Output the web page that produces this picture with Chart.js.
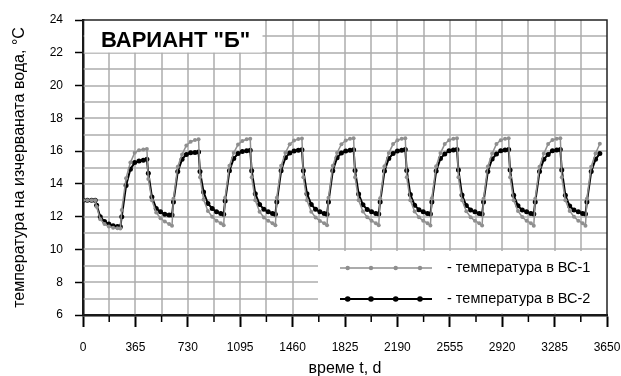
<!DOCTYPE html>
<html>
<head>
<meta charset="utf-8">
<script src="https://cdn.jsdelivr.net/npm/chart.js@4.4.1/dist/chart.umd.min.js"></script>
<style>
  html, body { margin: 0; padding: 0; background: #fff; }
  #wrap { width: 621px; height: 376px; }
</style>
</head>
<body>
<div id="wrap"><canvas id="myChart" width="621" height="376"></canvas></div>
<script>
// time, days
const days = [
  0, 30, 60, 85, 95, 120, 150, 180, 210, 240, 260, 270, 300, 330,
  360, 390, 420, 445, 455, 480, 510, 540, 570, 600, 620, 630, 660, 690,
  720, 750, 780, 805, 815, 840, 870, 900, 930, 960, 980, 990, 1020, 1050,
  1080, 1110, 1140, 1165, 1175, 1200, 1230, 1260, 1290, 1320, 1340, 1350, 1380, 1410,
  1440, 1470, 1500, 1525, 1535, 1560, 1590, 1620, 1650, 1680, 1700, 1710, 1740, 1770,
  1800, 1830, 1860, 1885, 1895, 1920, 1950, 1980, 2010, 2040, 2060, 2070, 2100, 2130,
  2160, 2190, 2220, 2245, 2255, 2280, 2310, 2340, 2370, 2400, 2420, 2430, 2460, 2490,
  2520, 2550, 2580, 2605, 2615, 2640, 2670, 2700, 2730, 2760, 2780, 2790, 2820, 2850,
  2880, 2910, 2940, 2965, 2975, 3000, 3030, 3060, 3090, 3120, 3140, 3150, 3180, 3210,
  3240, 3270, 3300, 3325, 3335, 3360, 3390, 3420, 3450, 3480, 3500, 3510, 3540, 3570,
  3600
]

// температура в ВС-1 (gray)
const tempBC1 = [
  13.0, 13.0, 13.0, 13.0, 12.6, 11.85, 11.55, 11.4, 11.32, 11.3, 11.28, 12.4, 14.35, 15.3,
  15.9, 16.05, 16.1, 16.13, 14.3, 13.0, 12.25, 11.9, 11.7, 11.55, 11.45, 13.1, 15.05, 15.8,
  16.35, 16.57, 16.68, 16.72, 14.4, 13.05, 12.35, 12.0, 11.75, 11.6, 11.48, 13.15, 15.1, 15.9,
  16.4, 16.62, 16.72, 16.76, 14.4, 13.0, 12.3, 11.95, 11.75, 11.6, 11.48, 13.15, 15.1, 15.9,
  16.42, 16.64, 16.74, 16.77, 14.4, 13.0, 12.3, 11.95, 11.74, 11.6, 11.47, 13.15, 15.1, 15.9,
  16.42, 16.65, 16.75, 16.78, 14.4, 13.0, 12.32, 11.96, 11.75, 11.6, 11.47, 13.12, 15.08, 15.88,
  16.43, 16.66, 16.76, 16.78, 14.4, 13.0, 12.32, 11.96, 11.75, 11.6, 11.46, 13.12, 15.08, 15.88,
  16.43, 16.67, 16.76, 16.78, 14.4, 13.0, 12.33, 11.97, 11.75, 11.6, 11.46, 13.1, 15.06, 15.86,
  16.43, 16.67, 16.76, 16.78, 14.4, 13.0, 12.34, 11.98, 11.75, 11.6, 11.45, 13.1, 15.05, 15.85,
  16.43, 16.68, 16.76, 16.78, 14.4, 13.0, 12.35, 12.0, 11.75, 11.6, 11.45, 13.1, 15.05, 15.85,
  16.45
]

// температура в ВС-2 (black)
const tempBC2 = [
  13.0, 13.0, 13.0, 13.0, 12.7, 12.0, 11.7, 11.55, 11.45, 11.4, 11.38, 12.0, 13.9, 14.9,
  15.3, 15.4, 15.45, 15.5, 14.65, 13.2, 12.5, 12.3, 12.15, 12.1, 12.1, 12.9, 14.75, 15.5,
  15.8, 15.9, 15.92, 15.95, 14.75, 13.5, 12.8, 12.5, 12.3, 12.2, 12.15, 12.95, 14.8, 15.55,
  15.85, 15.98, 16.02, 16.05, 14.8, 13.4, 12.75, 12.45, 12.3, 12.2, 12.15, 12.9, 14.8, 15.6,
  15.88, 16.0, 16.05, 16.08, 14.8, 13.4, 12.75, 12.45, 12.3, 12.2, 12.15, 12.9, 14.8, 15.6,
  15.88, 16.01, 16.06, 16.09, 14.82, 13.38, 12.72, 12.44, 12.3, 12.2, 12.16, 12.9, 14.78, 15.55,
  15.85, 16.01, 16.06, 16.1, 14.82, 13.35, 12.7, 12.42, 12.3, 12.2, 12.16, 12.9, 14.78, 15.55,
  15.83, 16.02, 16.07, 16.1, 14.85, 13.32, 12.68, 12.41, 12.3, 12.2, 12.16, 12.9, 14.76, 15.52,
  15.82, 16.02, 16.07, 16.1, 14.85, 13.3, 12.66, 12.4, 12.3, 12.2, 12.16, 12.9, 14.75, 15.5,
  15.8, 16.02, 16.07, 16.1, 14.85, 13.3, 12.65, 12.4, 12.3, 12.2, 12.16, 12.9, 14.75, 15.5,
  15.85
]

const xLabels = [0, 365, 730, 1095, 1460, 1825, 2190, 2555, 2920, 3285, 3650]
const yLabels = [6, 8, 10, 12, 14, 16, 18, 20, 22, 24]
const seriesNames = ['- температура в ВС-1', '- температура в ВС-2']
const chartTitle = 'ВАРИАНТ "Б"'

const grayColor = '#8f8f8f'
const gridColor = '#adadad'
const FONT = '"Liberation Sans", Arial, sans-serif'

const toPoints = (vals) => vals.map((v, i) => ({ x: days[i], y: v }))

// grid lines inside the plot
const gridPlugin = {
  id: 'gridlines',
  beforeDatasetsDraw(chart) {
    const ctx = chart.ctx
    const a = chart.chartArea
    const xs = chart.scales.x
    const ys = chart.scales.y
    ctx.save()
    ctx.strokeStyle = gridColor
    ctx.lineWidth = 1.5
    xs.ticks.forEach((t) => {
      const px = Math.round(xs.getPixelForValue(t.value))
      if (px < a.left + 2 || px > a.right - 2) return
      ctx.beginPath()
      ctx.moveTo(px, a.top)
      ctx.lineTo(px, a.bottom)
      ctx.stroke()
    })
    for (let v = 7; v < 24; v++) {
      const py = Math.round(ys.getPixelForValue(v))
      ctx.beginPath()
      ctx.moveTo(a.left, py)
      ctx.lineTo(a.right, py)
      ctx.stroke()
    }
    ctx.restore()
  },
}

// frame, title box, legend box, minor x ticks
const decorPlugin = {
  id: 'decor',
  afterDraw(chart) {
    const ctx = chart.ctx
    const a = chart.chartArea
    const xs = chart.scales.x
    ctx.save()

    // minor ticks on x (half years)
    ctx.strokeStyle = '#000'
    ctx.lineWidth = 1.5
    for (let i = 0; i < xLabels.length - 1; i++) {
      const px = xs.getPixelForValue((xLabels[i] + xLabels[i + 1]) / 2)
      ctx.beginPath()
      ctx.moveTo(px, a.bottom)
      ctx.lineTo(px, a.bottom + 7)
      ctx.stroke()
    }

    // white boxes
    ctx.fillStyle = '#fff'
    ctx.fillRect(a.left + 1.5, a.top, 178, 32.5)
    ctx.fillRect(a.right - 289, a.bottom - 64, 289, 62.5)

    // frame
    ctx.strokeStyle = '#222'
    ctx.lineWidth = 1.5
    ctx.strokeRect(a.left, a.top, a.right - a.left, a.bottom - a.top)

    // title
    ctx.fillStyle = '#000'
    ctx.font = 'bold 22px ' + FONT
    ctx.textBaseline = 'alphabetic'
    ctx.textAlign = 'left'
    ctx.fillText(chartTitle, a.left + 18, a.top + 27)

    // legend
    const lx0 = a.right - 267
    const lx1 = a.right - 175
    const rows = [
      { y: a.bottom - 47, color: grayColor, w: 1.5, r: 2.2 },
      { y: a.bottom - 16, color: '#000', w: 2, r: 2.8 },
    ]
    rows.forEach((row, k) => {
      ctx.strokeStyle = row.color
      ctx.lineWidth = row.w
      ctx.beginPath()
      ctx.moveTo(lx0, row.y)
      ctx.lineTo(lx1, row.y)
      ctx.stroke()
      ctx.fillStyle = row.color
      ;[7.7, 31, 55.7, 80].forEach((dx) => {
        ctx.beginPath()
        ctx.arc(lx0 + dx, row.y, row.r, 0, Math.PI * 2)
        ctx.fill()
      })
      ctx.fillStyle = '#000'
      ctx.font = '14.5px ' + FONT
      ctx.textBaseline = 'middle'
      ctx.fillText(seriesNames[k], a.right - 160, row.y)
    })
    ctx.restore()
  },
}

const ctx = document.getElementById('myChart').getContext('2d')
const myChart = new Chart(ctx, {
  type: 'line',
  data: {
    datasets: [
      {
        label: seriesNames[0],
        data: toPoints(tempBC1),
        borderColor: grayColor,
        backgroundColor: grayColor,
        borderWidth: 1.5,
        pointRadius: 2,
        pointBorderWidth: 0,
        tension: 0,
      },
      {
        label: seriesNames[1],
        data: toPoints(tempBC2),
        borderColor: '#000',
        backgroundColor: '#000',
        borderWidth: 2,
        pointRadius: 2.5,
        pointBorderWidth: 0,
        tension: 0,
      },
    ],
  },
  options: {
    responsive: false,
    animation: false,
    devicePixelRatio: 1,
    layout: { padding: { top: 20, right: 14, left: 0, bottom: 0 } },
    plugins: {
      legend: { display: false },
      tooltip: { enabled: false },
    },
    scales: {
      x: {
        type: 'linear',
        min: 0,
        max: 3650,
        afterBuildTicks: (axis) => {
          const t = []
          xLabels.forEach((v, i) => {
            t.push({ value: v })
            if (i < xLabels.length - 1) t.push({ value: (v + xLabels[i + 1]) / 2 })
          })
          axis.ticks = t
        },
        afterFit: (s) => {
          s.height = 61
          s.paddingLeft = 0
          s.paddingRight = 0
        },
        ticks: {
          autoSkip: false,
          maxRotation: 0,
          padding: 13,
          color: '#000',
          font: { family: FONT, size: 12 },
          callback: (v) => (xLabels.includes(v) ? String(v) : ''),
        },
        grid: {
          drawOnChartArea: false,
          tickLength: 12,
          tickWidth: 2,
          tickColor: (c) => (c.tick && xLabels.includes(c.tick.value) ? '#000' : 'rgba(0,0,0,0)'),
        },
        border: { color: '#000', width: 2.5 },
        title: {
          display: true,
          text: 'време t, d',
          color: '#000',
          font: { family: FONT, size: 16 },
          padding: { top: 0, bottom: -2 },
        },
      },
      y: {
        min: 6,
        max: 24,
        afterFit: (s) => {
          s.width = 83
          s.paddingTop = 0
          s.paddingBottom = 0
        },
        ticks: {
          stepSize: 1,
          padding: 12,
          color: '#000',
          font: { family: FONT, size: 12 },
          callback: (v) => (yLabels.includes(v) ? String(v) : ''),
        },
        grid: {
          drawOnChartArea: false,
          tickLength: 8,
          tickWidth: 1.5,
          tickColor: '#000',
        },
        border: { color: '#000', width: 2.5 },
        title: {
          display: true,
          text: 'температура на изчерваната вода, °C',
          color: '#000',
          font: { family: FONT, size: 16 },
          padding: { top: 10, bottom: 0 },
        },
      },
    },
  },
  plugins: [gridPlugin, decorPlugin],
})
</script>
</body>
</html>
